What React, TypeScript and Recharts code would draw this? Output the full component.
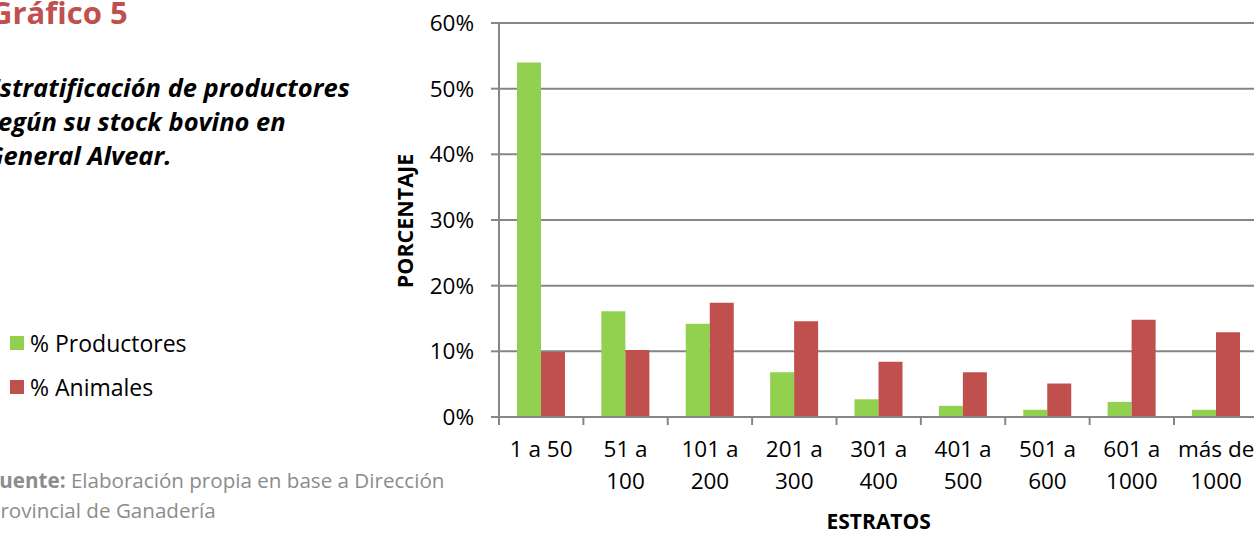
import { Bar, BarChart, CartesianGrid, XAxis, YAxis } from "recharts";

const categories = [
  "1 a 50",
  "51 a 100",
  "101 a 200",
  "201 a 300",
  "301 a 400",
  "401 a 500",
  "501 a 600",
  "601 a 1000",
  "más de 1000",
];
const tickLabels = [
  ["1 a 50"],
  ["51 a", "100"],
  ["101 a", "200"],
  ["201 a", "300"],
  ["301 a", "400"],
  ["401 a", "500"],
  ["501 a", "600"],
  ["601 a", "1000"],
  ["más de", "1000"],
];
const productores = [54.0, 16.1, 14.2, 6.8, 2.7, 1.7, 1.1, 2.3, 1.1];
const animales = [9.9, 10.2, 17.4, 14.6, 8.4, 6.8, 5.1, 14.8, 12.9];
const yTicks = [0, 10, 20, 30, 40, 50, 60];

const data = categories.map((estrato, i) => ({
  estrato,
  productores: productores[i],
  animales: animales[i],
}));

const FONT = "'Open Sans', sans-serif";
const AXIS = "#868686";
const GREEN = "#92D050";
const RED = "#C0504D";

const CHART_W = 880;
const CHART_H = 533;
const Y_AXIS_W = 119;
const PLOT_W = 759.375;
const BAND = PLOT_W / categories.length;

function CategoryTick(props: any) {
  const { x, y, index } = props;
  const lines = tickLabels[index] ?? [];
  return (
    <g>
      <line x1={x - BAND / 2} x2={x - BAND / 2} y1={y - 8} y2={y} stroke={AXIS} strokeWidth={2} />
      <text x={x} y={y} textAnchor="middle" fontSize={22.5} fill="#000" fontFamily={FONT}>
        {lines.map((l, i) => (
          <tspan key={i} x={x} dy={32}>
            {l}
          </tspan>
        ))}
      </text>
    </g>
  );
}

export default function App() {
  return (
    <div
      style={{
        position: "fixed",
        left: 0,
        top: 0,
        width: 1254,
        height: 533,
        overflow: "hidden",
        background: "#fff",
        fontFamily: FONT,
      }}
    >
      <div style={{ position: "absolute", left: 380, top: 0 }}>
        <BarChart
          width={CHART_W}
          height={CHART_H}
          data={data}
          margin={{ top: 23, right: CHART_W - Y_AXIS_W - PLOT_W, left: 0, bottom: 0 }}
          barGap={0}
          style={{ fontFamily: FONT }}
        >
          <CartesianGrid vertical={false} stroke={AXIS} strokeWidth={2} />
          <XAxis
            dataKey="estrato"
            interval={0}
            height={116}
            tickLine={false}
            tickSize={8}
            tickMargin={0}
            axisLine={{ stroke: AXIS, strokeWidth: 2 }}
            tick={<CategoryTick />}
            label={{
              value: "ESTRATOS",
              position: "insideBottom",
              offset: 4,
              fill: "#000",
              fontSize: 21,
              fontWeight: 700,
            }}
          />
          <YAxis
            type="number"
            domain={[0, 60]}
            ticks={yTicks}
            interval={0}
            width={Y_AXIS_W}
            tickSize={8}
            tickMargin={17}
            tickFormatter={(v: number) => `${v}%`}
            tick={{ fill: "#000", fontSize: 22.5 }}
            axisLine={{ stroke: AXIS, strokeWidth: 2 }}
            tickLine={{ stroke: AXIS, strokeWidth: 2 }}
          />
          <Bar dataKey="productores" name="% Productores" fill={GREEN} barSize={24} isAnimationActive={false} />
          <Bar dataKey="animales" name="% Animales" fill={RED} barSize={24} isAnimationActive={false} />
        </BarChart>
      </div>

      <svg
        width={1254}
        height={533}
        style={{ position: "absolute", left: 0, top: 0, pointerEvents: "none" }}
        fontFamily={FONT}
      >
        <text x={-10} y={24} fontSize={31} fontWeight={700} fill={RED}>
          Gráfico 5
        </text>
        <g fontSize={25.5} fontWeight={700} fontStyle="italic" fill="#000">
          <text x={-14} y={97}>Estratificación de productores</text>
          <text x={-14} y={131}>según su stock bovino en</text>
          <text x={-14} y={165}>General Alvear.</text>
        </g>

        <rect x={10} y={336} width={14} height={14} fill={GREEN} />
        <text x={30} y={352} fontSize={23} fill="#000">
          % Productores
        </text>
        <rect x={10} y={380} width={14} height={14} fill={RED} />
        <text x={30} y={396} fontSize={23} fill="#000">
          % Animales
        </text>

        <g fontSize={20.6} fill="#8c8c8c">
          <text x={-12} y={488}>
            <tspan fontWeight={700}>Fuente:</tspan> Elaboración propia en base a Dirección
          </text>
          <text x={-12} y={518}>Provincial de Ganadería</text>
        </g>

        <text
          transform="translate(413,221) rotate(-90)"
          textAnchor="middle"
          fontSize={21.5}
          fontWeight={700}
          fill="#000"
        >
          PORCENTAJE
        </text>
      </svg>
    </div>
  );
}
